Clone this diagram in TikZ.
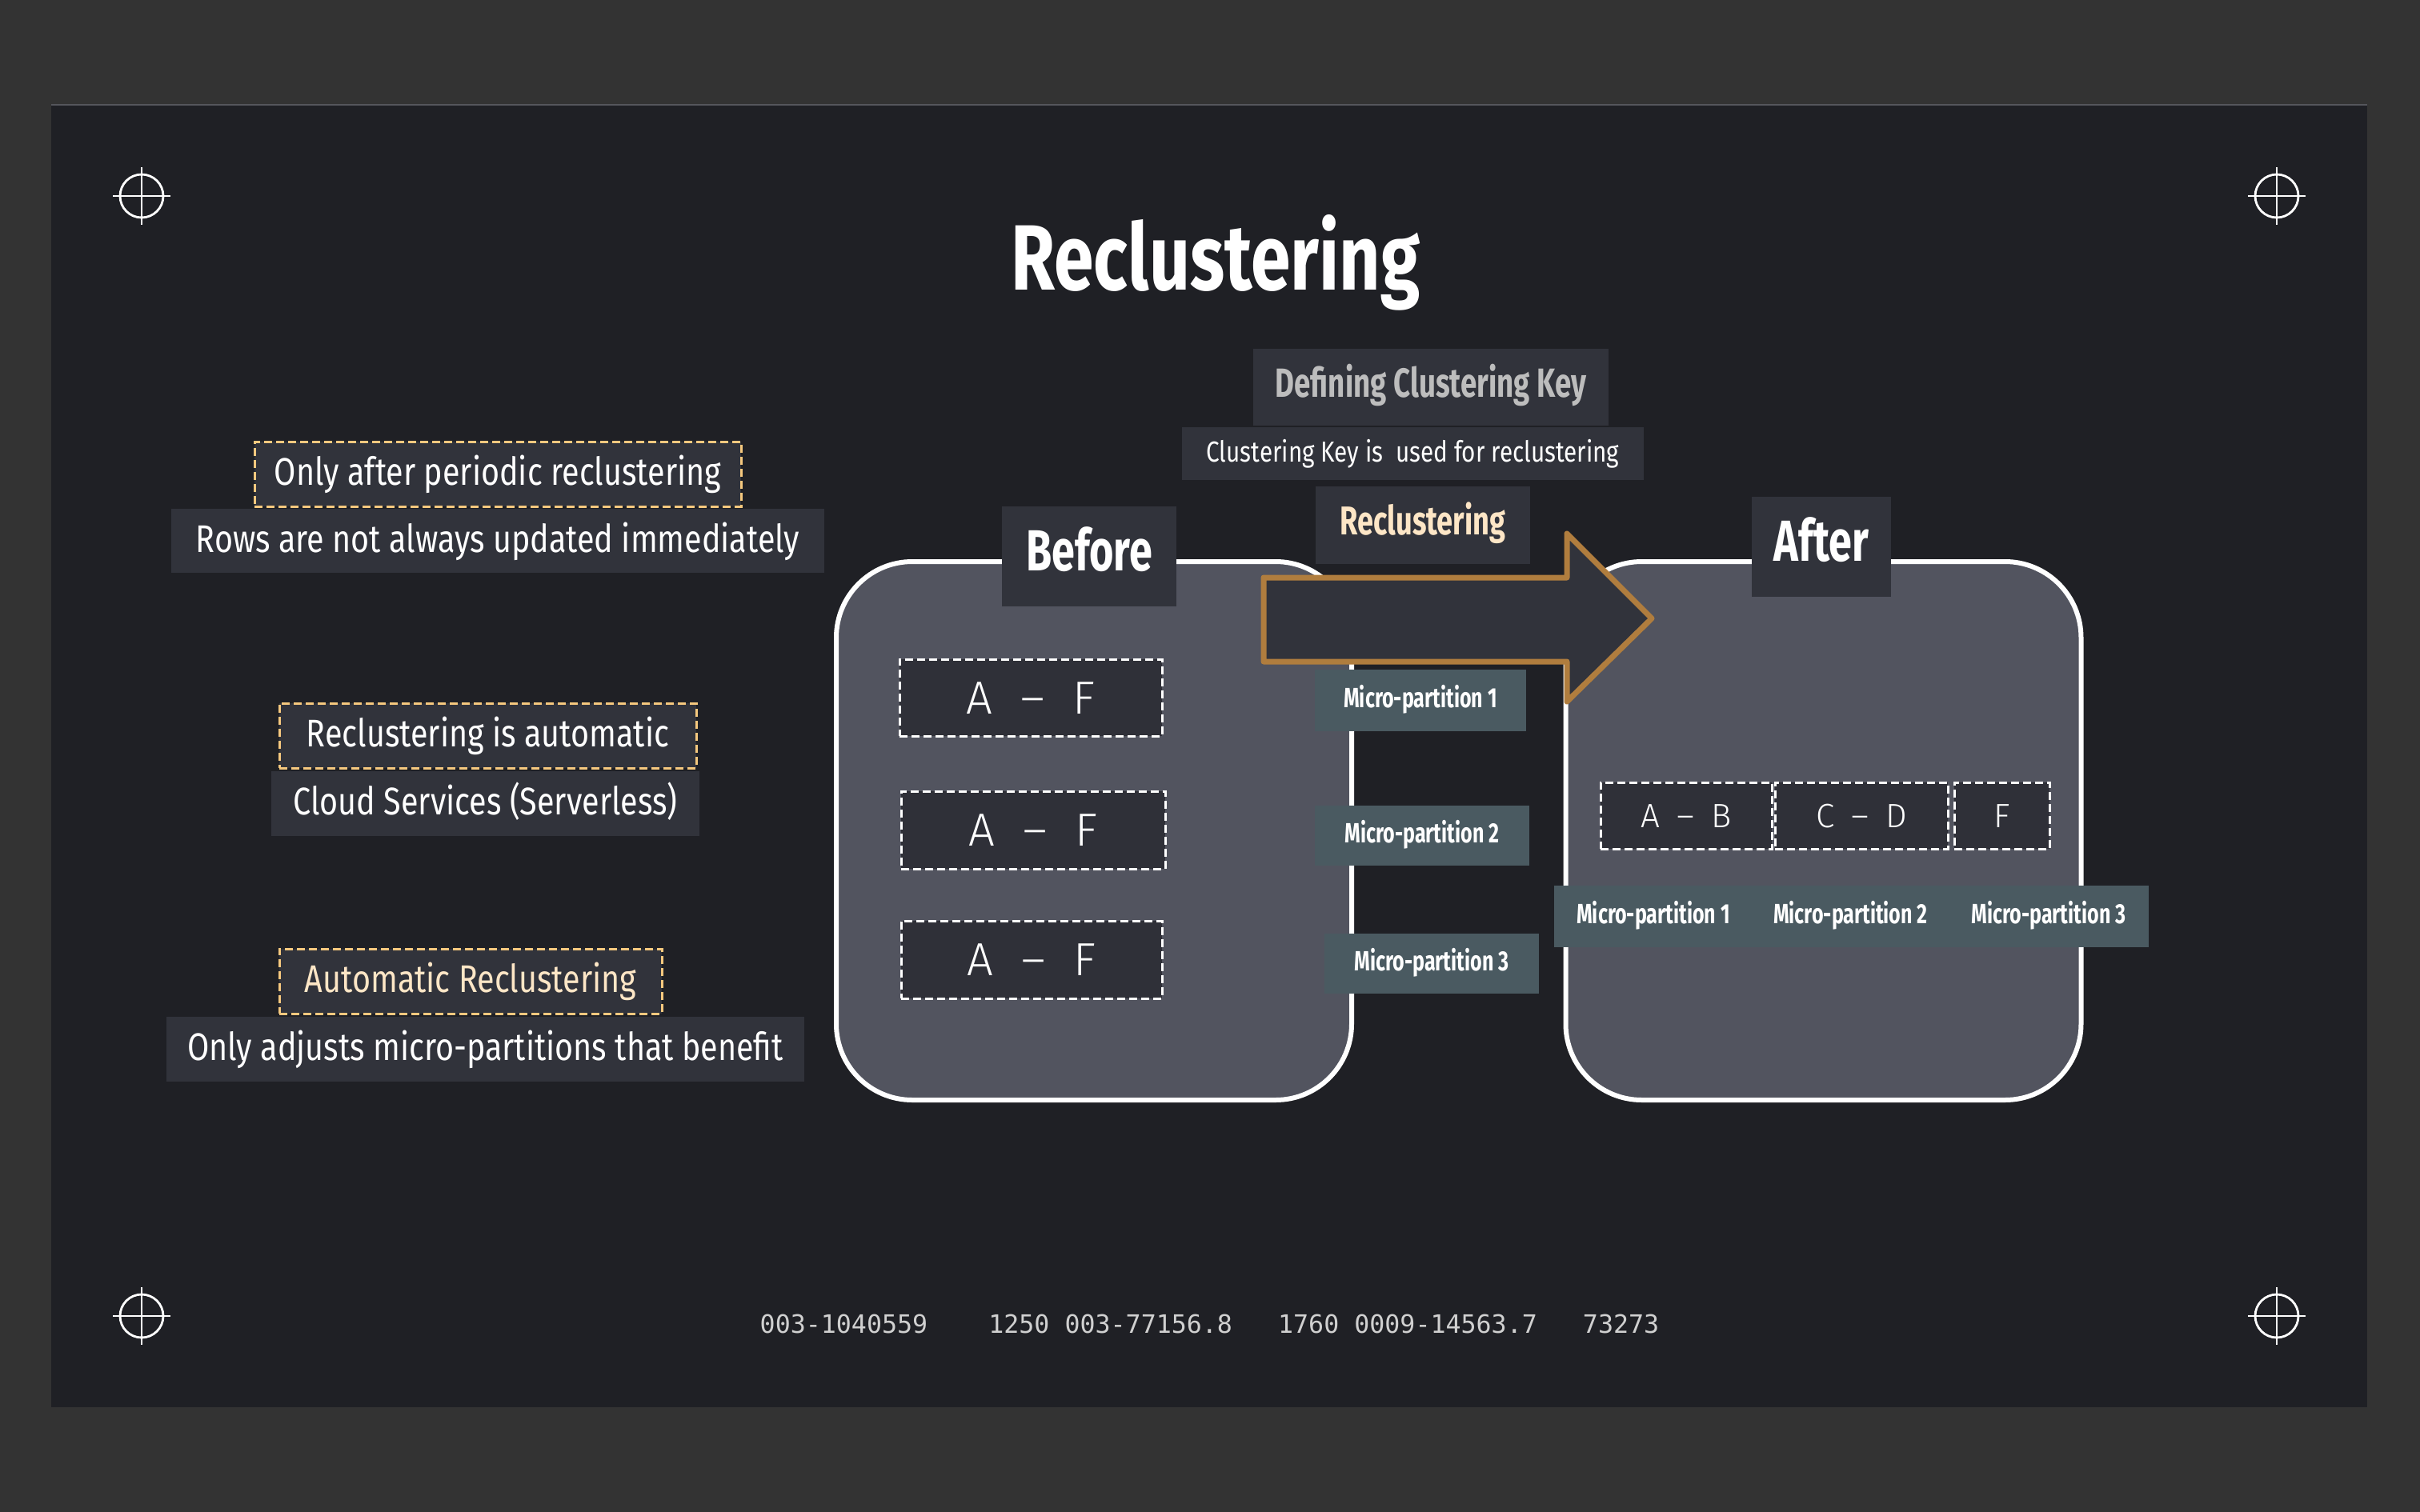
\documentclass[tikz,border=0pt]{standalone}
\usepackage{fontspec}
\setmainfont{Fira Sans}
\newfontfamily\titlefont[FakeStretch=0.77]{Fira Sans}
\newfontfamily\headfont[FakeStretch=0.72]{Fira Sans}
\newfontfamily\bodyfont[FakeStretch=0.82]{Fira Sans}
\newfontfamily\thinfont[UprightFont=* Light]{Fira Sans}
\newfontfamily\numfont{DejaVu Sans Mono}
\definecolor{pagebg}{HTML}{333333}
\definecolor{slidebg}{HTML}{1F2025}
\definecolor{slideedge}{HTML}{55565C}
\definecolor{panelgray}{HTML}{31333B}
\definecolor{boxfill}{HTML}{52545F}
\definecolor{cellfill}{HTML}{2F3038}
\definecolor{mpfill}{HTML}{4A5A61}
\definecolor{noteline}{HTML}{F5C87E}
\definecolor{cream}{HTML}{FDE6C6}
\definecolor{keygray}{HTML}{BDBDBD}
\definecolor{arrowline}{HTML}{B07D3E}
\definecolor{numgray}{HTML}{D0D0D0}
\begin{document}
\begin{tikzpicture}[y=-1cm]
\tikzset{headtext/.style = {font=\headfont\bfseries\fontsize{#1}{#1}\selectfont, text height=0.69*#1pt, text depth=0.2*#1pt}}
\tikzset{bodytext/.style = {font=\bodyfont\fontsize{#1}{#1}\selectfont, text height=0.69*#1pt, text depth=0.1*#1pt}}
\tikzset{thintext/.style = {font=\thinfont\fontsize{#1}{#1}\selectfont, text height=0.69*#1pt, text depth=0pt}}
\tikzset{panel/.style = {fill=panelgray, text=white, inner sep=0pt}}
\tikzset{note/.style = {panel, draw=noteline, line width=0.03cm, dash pattern=on 0.1cm off 0.05cm, bodytext=13.7}}
\tikzset{rowbox/.style = {panel, bodytext=13.7}}
\tikzset{tag/.style = {panel, headtext=20.6}}
\tikzset{cell/.style = {panel, fill=cellfill, draw=white, line width=0.03cm, dash pattern=on 0.1cm off 0.05cm, thintext=16.5}}
\tikzset{mp/.style = {panel, fill=mpfill, headtext=9.9}}
\tikzset{bigbox/.style = {fill=boxfill, draw=white, line width=0.06cm, rounded corners=0.95cm}}
\tikzset{crosshair/.style = {white, line width=0.028cm}}
% page and slide
\fill[pagebg] (0,0) rectangle (30.24,18.9);
\fill[slidebg] (0.64,1.31) rectangle (29.58,17.59);
\draw[slideedge, line width=0.02cm] (0.64,1.31) -- (29.58,1.31);
% corner marks
\foreach \cx/\cy in {1.77/2.45, 28.45/2.45, 1.77/16.45, 28.45/16.45} {
  \draw[crosshair] (\cx,\cy) circle (0.27);
  \draw[crosshair] (\cx-0.36,\cy) -- (\cx+0.36,\cy);
  \draw[crosshair] (\cx,\cy-0.36) -- (\cx,\cy+0.36);
}
\node[font=\titlefont\bfseries\fontsize{33}{36}\selectfont, text=white, anchor=base] (title) at (15.19,3.62) {Reclustering};
% notes on the left
\node[note, minimum width=6.08cm, minimum height=0.81cm] (note1) at (6.22,5.925) {Only after periodic reclustering};
\node[rowbox, minimum width=8.16cm, minimum height=0.80cm] (row1) at (6.22,6.76) {Rows are not always updated immediately};
\node[note, minimum width=5.21cm, minimum height=0.81cm] (note2) at (6.095,9.195) {Reclustering is automatic};
\node[rowbox, minimum width=5.35cm, minimum height=0.81cm] (row2) at (6.065,10.045) {Cloud Services (Serverless)};
\node[note, text=cream, minimum width=4.78cm, minimum height=0.81cm] (note3) at (5.88,12.265) {Automatic Reclustering};
\node[rowbox, minimum width=7.97cm, minimum height=0.81cm] (row3) at (6.065,13.115) {Only adjusts micro-partitions that benefit};
% before and after boxes
\node[bigbox, minimum width=6.44cm, minimum height=6.73cm] (before) at (13.67,10.385) {};
\node[bigbox, minimum width=6.44cm, minimum height=6.73cm] (after) at (22.785,10.385) {};
\node[tag, minimum width=2.18cm, minimum height=1.25cm] (beforetag) at (13.61,6.955) {Before};
\node[tag, minimum width=1.74cm, minimum height=1.25cm] (aftertag) at (22.76,6.835) {After};
% clustering key
\node[tag, text=keygray, headtext=14.5, minimum width=4.44cm, minimum height=0.96cm] (keytag) at (17.88,4.84) {Defining Clustering Key};
\node[panel, bodytext=10.3, minimum width=5.77cm, minimum height=0.66cm] (keyrow) at (17.655,5.67) {Clustering Key is\ \ used for reclustering};
\node[tag, text=cream, headtext=14.3, minimum width=2.68cm, minimum height=0.97cm] (recltag) at (17.78,6.565) {Reclustering};
% big arrow
\draw[arrowline, fill=panelgray, line width=0.07cm, line join=round] (15.79,7.22) -- (19.58,7.22) -- (19.58,6.67) -- (20.64,7.73) -- (19.58,8.77) -- (19.58,8.27) -- (15.79,8.27) -- cycle;
% cells before
\node[cell, minimum width=3.28cm, minimum height=0.96cm] (cell1) at (12.88,8.72) {A\hspace{0.6em}–\hspace{0.6em}F};
\node[cell, minimum width=3.30cm, minimum height=0.97cm] (cell2) at (12.91,10.375) {A\hspace{0.6em}–\hspace{0.6em}F};
\node[cell, minimum width=3.26cm, minimum height=0.97cm] (cell3) at (12.89,11.995) {A\hspace{0.6em}–\hspace{0.6em}F};
\node[mp, minimum width=2.64cm, minimum height=0.77cm] (mp1) at (17.75,8.755) {Micro-partition 1};
\node[mp, minimum width=2.68cm, minimum height=0.75cm] (mp2) at (17.77,10.445) {Micro-partition 2};
\node[mp, minimum width=2.68cm, minimum height=0.75cm] (mp3) at (17.89,12.045) {Micro-partition 3};
% cells after
\node[cell, thintext=12, minimum width=2.14cm, minimum height=0.83cm] (cellab) at (21.07,10.195) {A\hspace{0.5em}–\hspace{0.5em}B};
\node[cell, thintext=12, minimum width=2.16cm, minimum height=0.83cm] (cellcd) at (23.26,10.195) {C\hspace{0.5em}–\hspace{0.5em}D};
\node[cell, thintext=12, minimum width=1.19cm, minimum height=0.83cm] (cellf) at (25.015,10.195) {F};
\node[mp, minimum width=2.48cm, minimum height=0.77cm] (mpa) at (20.66,11.455) {Micro-partition 1};
\node[mp, minimum width=2.45cm, minimum height=0.77cm] (mpb) at (23.125,11.455) {Micro-partition 2};
\node[mp, minimum width=2.50cm, minimum height=0.77cm] (mpc) at (25.60,11.455) {Micro-partition 3};
% numbers at the bottom
\node[font=\numfont\fontsize{9}{11}\selectfont, text=numgray, inner sep=0pt, anchor=west] (codes) at (9.49,16.55) {003-1040559~~~~1250 003-77156.8~~~1760 0009-14563.7~~~73273};
\end{tikzpicture}
\end{document}
